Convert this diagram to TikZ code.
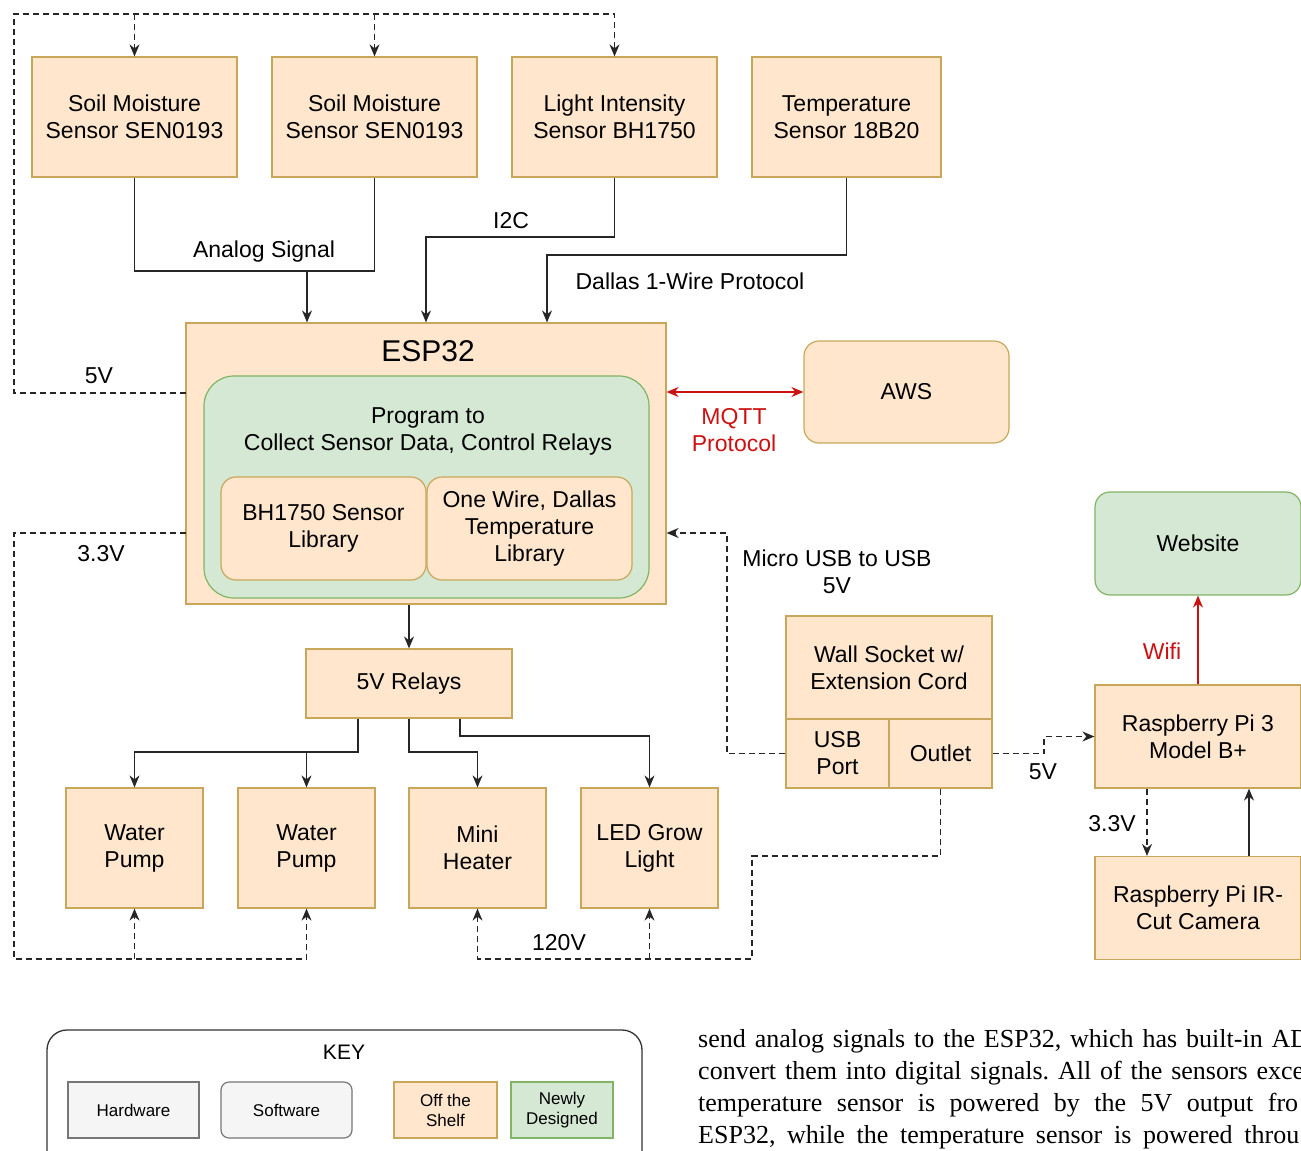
\documentclass[tikz,border=0pt]{standalone}
\usepackage{fontspec}
\setmainfont{Liberation Sans}
\newfontfamily\bodyfont{Liberation Serif}
\usetikzlibrary{arrows.meta}
\frenchspacing
\definecolor{shelfFill}{HTML}{FFE6CC}
\definecolor{shelfLine}{HTML}{C9A75A}
\definecolor{newFill}{HTML}{D5E8D4}
\definecolor{newLine}{HTML}{82B366}
\definecolor{keyFill}{HTML}{F5F5F5}
\definecolor{keyLine}{HTML}{777777}
\definecolor{netRed}{HTML}{CC1111}

\tikzset{
    hwbox/.style={draw=shelfLine, fill=shelfFill, line width=1.2pt, align=center, inner sep=0pt, font=\fontsize{23}{27}\selectfont},
    swbox/.style={hwbox, rounded corners=15pt},
    newbox/.style={hwbox, draw=newLine, fill=newFill, rounded corners=15pt},
    lbl/.style={font=\fontsize{23}{27}\selectfont, align=center, inner sep=0pt},
    redlbl/.style={lbl, text=netRed},
    sig/.style={draw=black!85, line width=1.3pt, -{Stealth[length=12pt,width=10pt]}},
    pwr/.style={sig, dash pattern=on 6pt off 4pt},
    link/.style={draw=black!85, line width=1.3pt},
    keytxt/.style={align=center, inner sep=0pt, font=\fontsize{17}{20}\selectfont},
    bodyline/.style={anchor=base west, inner sep=0pt, font=\bodyfont\fontsize{26}{32}\selectfont}
}

\begin{document}
\begin{tikzpicture}[x=1pt, y=-1pt]
    \useasboundingbox (0,0) rectangle (1301,1151);

    % Sensors
    \node[hwbox, minimum width=205, minimum height=120] (soilA) at (134.5,117) {Soil Moisture\\Sensor SEN0193};
    \node[hwbox, minimum width=205, minimum height=120] (soilB) at (374.5,117) {Soil Moisture\\Sensor SEN0193};
    \node[hwbox, minimum width=205, minimum height=120] (light) at (614.5,117) {Light Intensity\\Sensor BH1750};
    \node[hwbox, minimum width=189, minimum height=120] (temp) at (846.5,117) {Temperature\\Sensor 18B20};

    % ESP32 with program and libraries
    \node[hwbox, minimum width=480, minimum height=281] (esp) at (426,463.5) {};
    \node[lbl, font=\fontsize{30}{34}\selectfont] (esptitle) at (428,351) {ESP32};
    \node[newbox, rounded corners=30pt, minimum width=445, minimum height=222] (prog) at (426.5,487) {};
    \node[lbl] (progtext) at (428,431) {Program to\\Collect Sensor Data, Control Relays};
    \node[swbox, minimum width=205, minimum height=103] (bhlib) at (323.5,528.5) {BH1750 Sensor\\Library};
    \node[swbox, minimum width=205, minimum height=103] (owlib) at (529.5,528.5) {One Wire, Dallas\\Temperature\\Library};

    % Cloud
    \node[swbox, minimum width=205, minimum height=102] (aws) at (906.5,392) {AWS};

    % Relays and loads
    \node[hwbox, minimum width=206, minimum height=69] (relays) at (409,683.5) {5V Relays};
    \node[hwbox, minimum width=137, minimum height=120] (pumpA) at (134.5,848) {Water\\Pump};
    \node[hwbox, minimum width=137, minimum height=120] (pumpB) at (306.5,848) {Water\\Pump};
    \node[hwbox, minimum width=137, minimum height=120] (heater) at (477.5,848) {Mini\\Heater};
    \node[hwbox, minimum width=137, minimum height=120] (grow) at (649.5,848) {LED Grow\\Light};

    % Power supply
    \node[hwbox, minimum width=206, minimum height=103] (socket) at (889,667.5) {Wall Socket w/\\Extension Cord};
    \node[hwbox, minimum width=103, minimum height=69] (usb) at (837.5,753.5) {USB\\Port};
    \node[hwbox, minimum width=103, minimum height=69] (outlet) at (940.5,753.5) {Outlet};

    % Raspberry Pi side
    \node[hwbox, minimum width=206, minimum height=103] (rpi) at (1198,736.5) {Raspberry Pi 3\\Model B+};
    \node[newbox, minimum width=206, minimum height=103] (website) at (1198,543.5) {Website};
    \node[hwbox, minimum width=206, minimum height=103] (camera) at (1198,908) {Raspberry Pi IR-\\Cut Camera};

    % Power lines
    \coordinate (pinfive) at (186,393);
    \coordinate (topline) at (14,14);
    \draw[pwr] (pinfive) -| (topline) -| (light.north);
    \draw[pwr] (soilA.north |- topline) -- (soilA.north);
    \draw[pwr] (soilB.north |- topline) -- (soilB.north);
    \node[lbl] (lblfive) at (99,376) {5V};

    \coordinate (pinthree) at (186,533);
    \coordinate (bottomline) at (14,959);
    \draw[pwr] (pinthree) -| (bottomline) -| (pumpB.south);
    \draw[pwr] (pumpA.south |- bottomline) -- (pumpA.south);
    \node[lbl] (lblthree) at (101,554) {3.3V};

    \coordinate (mainsturn) at (752,856);
    \draw[pwr] (outlet.south) |- (mainsturn) -- (752,959) -| (heater.south);
    \draw[pwr] (grow.south |- bottomline) -- (grow.south);
    \node[lbl] (lblmains) at (559,943) {120V};

    \coordinate (usbturn) at (727,533);
    \draw[pwr] (usb.west) -| (usbturn) -- (esp.east |- usbturn);
    \node[lbl] (lblusb) at (837,572) {Micro USB to USB\\5V};

    \coordinate (rpiturn) at (1044,736.5);
    \draw[pwr] (outlet.east) -| (rpiturn) -- (rpi.west);
    \node[lbl] (lblrpi) at (1043,772) {5V};

    \draw[pwr] (rpi.south -| 1147,0) -- (camera.north -| 1147,0);
    \node[lbl] (lblcam) at (1112,824) {3.3V};

    % Signal lines
    \coordinate (analog) at (307,271);
    \draw[link] (soilA.south) |- (analog) -| (soilB.south);
    \draw[sig] (analog) -- (analog |- esp.north);
    \node[lbl] (lblanalog) at (264,252) {Analog Signal};

    \coordinate (itwoc) at (426,237);
    \draw[sig] (light.south) |- (itwoc) -- (itwoc |- esp.north);
    \node[lbl] (lblitwoc) at (511,221) {I2C};

    \coordinate (dallas) at (547,255);
    \draw[sig] (temp.south) |- (dallas) -- (dallas |- esp.north);
    \node[lbl] (lbldallas) at (690,281) {Dallas 1-Wire Protocol};

    \draw[sig] (relays.north |- esp.south) -- (relays.north);
    \coordinate (pumpsplit) at (358,752);
    \draw[sig] (pumpsplit |- relays.south) -- (pumpsplit) -| (pumpA.north);
    \draw[sig] (pumpB.north |- pumpsplit) -- (pumpB.north);
    \draw[sig] (relays.south) |- (heater.north |- pumpsplit) -- (heater.north);
    \coordinate (growsplit) at (460,736);
    \draw[sig] (growsplit |- relays.south) -- (growsplit) -| (grow.north);

    \draw[sig] (camera.north -| 1249,0) -- (rpi.south -| 1249,0);

    % Network links
    \draw[sig, draw=netRed, {Stealth[length=12pt,width=10pt]}-{Stealth[length=12pt,width=10pt]}] (aws.west -| esp.east) -- (aws.west);
    \node[redlbl] (lblmqtt) at (734,430) {MQTT\\Protocol};
    \draw[sig, draw=netRed] (rpi.north) -- (website.south);
    \node[redlbl] (lblwifi) at (1162,651) {Wifi};

    % Key
    \node[draw=black!80, line width=1.3pt, rounded corners=20pt, minimum width=595, minimum height=150] (key) at (344.5,1105) {};
    \node[keytxt, font=\fontsize{21}{24}\selectfont] (keytitle) at (344,1052) {KEY};
    \node[keytxt, draw=keyLine, fill=keyFill, line width=1.2pt, minimum width=131, minimum height=56] (keyhw) at (133.5,1110) {Hardware};
    \node[keytxt, draw=keyLine, fill=keyFill, line width=1.2pt, rounded corners=8pt, minimum width=131, minimum height=56] (keysw) at (286.5,1110) {Software};
    \node[keytxt, draw=shelfLine, fill=shelfFill, line width=1.2pt, minimum width=103, minimum height=56] (keyshelf) at (445.5,1110) {Off the\\Shelf};
    \node[keytxt, draw=newLine, fill=newFill, line width=1.2pt, minimum width=102, minimum height=56] (keynew) at (562,1110) {Newly\\Designed};

    % Running text beside the key
    \node[bodyline] (bodyA) at (698,1047) {\makebox[611pt][s]{send analog signals to the ESP32, which has built-in AD}};
    \node[bodyline] (bodyB) at (698,1079) {\makebox[606pt][s]{convert them into digital signals. All of the sensors exce}};
    \node[bodyline] (bodyC) at (698,1111) {\makebox[600pt][s]{temperature sensor is powered by the 5V output fro}};
    \node[bodyline] (bodyD) at (698,1143) {\makebox[601pt][s]{ESP32, while the temperature sensor is powered throu}};
\end{tikzpicture}
\end{document}
